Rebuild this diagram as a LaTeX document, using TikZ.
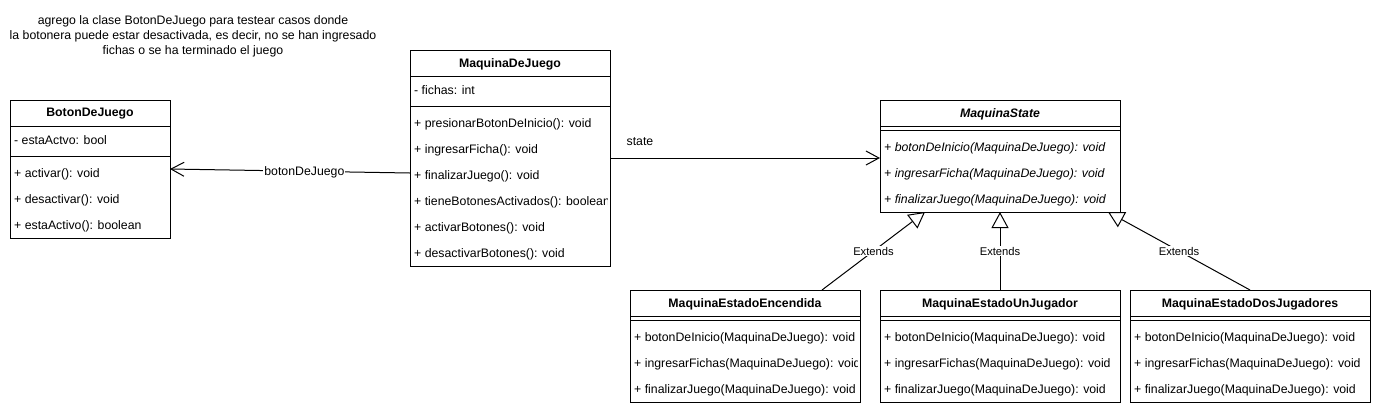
\documentclass[tikz,border=0pt]{standalone}
\usepackage{fontspec}
\setmainfont{Liberation Sans}
\usetikzlibrary{arrows.meta,calc}
\newcommand\umlfs{\fontsize{12.3}{15}\selectfont}
\newcommand\umlfss{\fontsize{11.2}{13}\selectfont}
\begin{document}
\begin{tikzpicture}[x=1pt,y=-1pt,
  cls/.style={draw, line width=1pt, inner sep=0pt, outer sep=0pt, anchor=north west},
  hdr/.style={font=\umlfs\bfseries, inner sep=0pt},
  hdri/.style={font=\umlfs\bfseries\itshape, inner sep=0pt},
  itm/.style={font=\umlfs, anchor=west, inner sep=0pt},
  itmi/.style={font=\umlfs\itshape, anchor=west, inner sep=0pt},
  sepl/.style={line width=1pt},
  lbl/.style={font=\umlfs, fill=white, inner sep=1pt},
  elbl/.style={font=\umlfss, fill=white, inner sep=1pt},
  assoc/.style={line width=1pt, -{Straight Barb[length=13pt, width=14pt]}},
  inh/.style={line width=1pt, -{Triangle[open, length=16pt, width=17pt]}}]
\useasboundingbox (0,0) rectangle (1391,416);

% note
\node[font=\umlfs, align=center, inner sep=0pt] (note) at (193,36)
  {agrego la clase BotonDeJuego para testear casos donde\\
   la botonera puede estar desactivada, es decir, no se han ingresado\\
   fichas o se ha terminado el juego};

% BotonDeJuego
\node[cls, minimum width=160pt, minimum height=138pt] (bdj) at (10,100) {};
\node[hdr] (bdjT) at ($(bdj.north)+(0,14)$) {BotonDeJuego};
\draw[sepl] ($(bdj.north west)+(0,26)$) -- ($(bdj.north east)+(0,26)$);
\node[itm] (bdjA) at ($(bdj.north west)+(4,40)$) {- estaActvo: bool};
\draw[sepl] ($(bdj.north west)+(0,56)$) -- ($(bdj.north east)+(0,56)$);
\node[itm] (bdjM1) at ($(bdj.north west)+(4,74)$) {+ activar(): void};
\node[itm] (bdjM2) at ($(bdj.north west)+(4,100)$) {+ desactivar(): void};
\node[itm] (bdjM3) at ($(bdj.north west)+(4,126)$) {+ estaActivo(): boolean};

% MaquinaDeJuego
\node[cls, minimum width=200pt, minimum height=216pt] (mdj) at (410,50) {};
\node[hdr] (mdjT) at ($(mdj.north)+(0,14)$) {MaquinaDeJuego};
\draw[sepl] ($(mdj.north west)+(0,26)$) -- ($(mdj.north east)+(0,26)$);
\node[itm] (mdjA) at ($(mdj.north west)+(4,40)$) {- fichas: int};
\draw[sepl] ($(mdj.north west)+(0,56)$) -- ($(mdj.north east)+(0,56)$);
\begin{scope}
\clip ($(mdj.north west)+(0,60)$) rectangle ($(mdj.south east)+(-3,0)$);
\node[itm] (mdjM1) at ($(mdj.north west)+(4,74)$) {+ presionarBotonDeInicio(): void};
\node[itm] (mdjM2) at ($(mdj.north west)+(4,100)$) {+ ingresarFicha(): void};
\node[itm] (mdjM3) at ($(mdj.north west)+(4,126)$) {+ finalizarJuego(): void};
\node[itm] (mdjM4) at ($(mdj.north west)+(4,152)$) {+ tieneBotonesActivados(): boolean};
\node[itm] (mdjM5) at ($(mdj.north west)+(4,178)$) {+ activarBotones(): void};
\node[itm] (mdjM6) at ($(mdj.north west)+(4,204)$) {+ desactivarBotones(): void};
\end{scope}

% MaquinaState
\node[cls, minimum width=240pt, minimum height=112pt] (ms) at (880,100) {};
\node[hdri] (msT) at ($(ms.north)+(0,14)$) {MaquinaState};
\draw[sepl] ($(ms.north west)+(0,26)$) -- ($(ms.north east)+(0,26)$);
\draw[sepl] ($(ms.north west)+(0,30)$) -- ($(ms.north east)+(0,30)$);
\node[itmi] (msM1) at ($(ms.north west)+(4,48)$) {+ botonDeInicio(MaquinaDeJuego): void};
\node[itmi] (msM2) at ($(ms.north west)+(4,74)$) {+ ingresarFicha(MaquinaDeJuego): void};
\node[itmi] (msM3) at ($(ms.north west)+(4,100)$) {+ finalizarJuego(MaquinaDeJuego): void};

% MaquinaEstadoEncendida
\node[cls, minimum width=230pt, minimum height=112pt] (enc) at (630,290) {};
\node[hdr] (encT) at ($(enc.north)+(0,14)$) {MaquinaEstadoEncendida};
\draw[sepl] ($(enc.north west)+(0,26)$) -- ($(enc.north east)+(0,26)$);
\draw[sepl] ($(enc.north west)+(0,30)$) -- ($(enc.north east)+(0,30)$);
\begin{scope}
\clip ($(enc.north west)+(0,34)$) rectangle ($(enc.south east)+(-3,0)$);
\node[itm] (encM1) at ($(enc.north west)+(4,48)$) {+ botonDeInicio(MaquinaDeJuego): void};
\node[itm] (encM2) at ($(enc.north west)+(4,74)$) {+ ingresarFichas(MaquinaDeJuego): void};
\node[itm] (encM3) at ($(enc.north west)+(4,100)$) {+ finalizarJuego(MaquinaDeJuego): void};
\end{scope}

% MaquinaEstadoUnJugador
\node[cls, minimum width=240pt, minimum height=112pt] (une) at (880,290) {};
\node[hdr] (uneT) at ($(une.north)+(0,14)$) {MaquinaEstadoUnJugador};
\draw[sepl] ($(une.north west)+(0,26)$) -- ($(une.north east)+(0,26)$);
\draw[sepl] ($(une.north west)+(0,30)$) -- ($(une.north east)+(0,30)$);
\node[itm] (uneM1) at ($(une.north west)+(4,48)$) {+ botonDeInicio(MaquinaDeJuego): void};
\node[itm] (uneM2) at ($(une.north west)+(4,74)$) {+ ingresarFichas(MaquinaDeJuego): void};
\node[itm] (uneM3) at ($(une.north west)+(4,100)$) {+ finalizarJuego(MaquinaDeJuego): void};

% MaquinaEstadoDosJugadores
\node[cls, minimum width=240pt, minimum height=112pt] (dos) at (1130,290) {};
\node[hdr] (dosT) at ($(dos.north)+(0,14)$) {MaquinaEstadoDosJugadores};
\draw[sepl] ($(dos.north west)+(0,26)$) -- ($(dos.north east)+(0,26)$);
\draw[sepl] ($(dos.north west)+(0,30)$) -- ($(dos.north east)+(0,30)$);
\node[itm] (dosM1) at ($(dos.north west)+(4,48)$) {+ botonDeInicio(MaquinaDeJuego): void};
\node[itm] (dosM2) at ($(dos.north west)+(4,74)$) {+ ingresarFichas(MaquinaDeJuego): void};
\node[itm] (dosM3) at ($(dos.north west)+(4,100)$) {+ finalizarJuego(MaquinaDeJuego): void};

% associations
\draw[assoc] ($(mdj.north west)+(0,123)$) -- node[lbl, pos=0.44, yshift=-1pt] (lblB) {botonDeJuego} ($(bdj.north east)+(0,69)$);
\draw[assoc] ($(mdj.north east)+(0,108)$) -- node[font=\umlfs, inner sep=0pt, pos=0.111, yshift=16pt] (lblS) {state} ($(ms.north west)+(0,58)$);

% generalizations
\draw[inh] ($(enc.north west)+(192,0)$) -- node[elbl] (ext1) {Extends} ($(ms.south west)+(45,0)$);
\draw[inh] (une.north) -- node[elbl] (ext2) {Extends} (ms.south);
\draw[inh] (dos.north) -- node[elbl] (ext3) {Extends} ($(ms.south west)+(228,0)$);
\end{tikzpicture}
\end{document}
